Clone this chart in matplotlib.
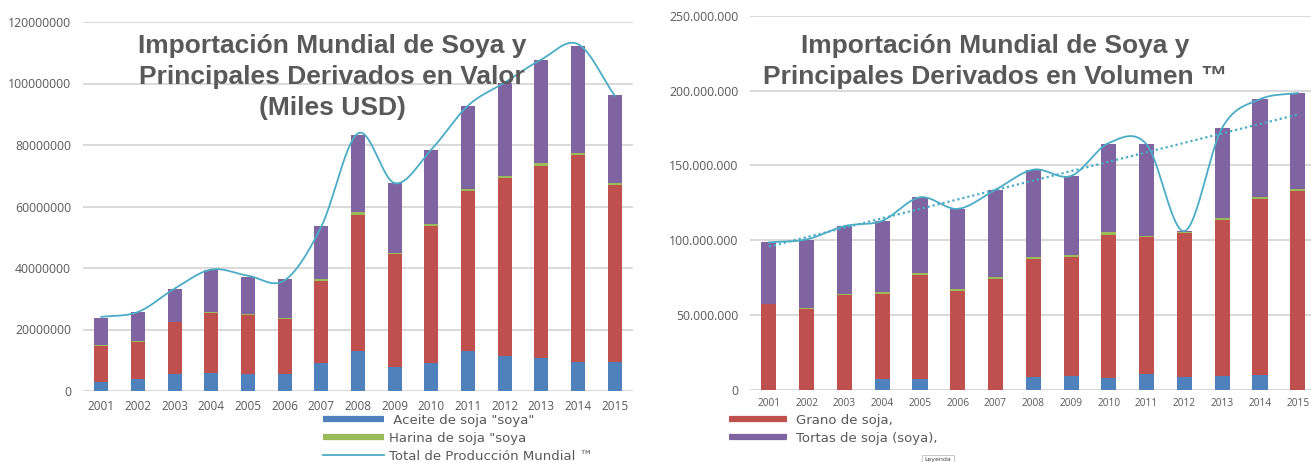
import numpy as np
import matplotlib
matplotlib.use("Agg")
import matplotlib.pyplot as plt
from matplotlib.lines import Line2D

# ---------------- data ----------------
years = ["2001", "2002", "2003", "2004", "2005", "2006", "2007", "2008",
         "2009", "2010", "2011", "2012", "2013", "2014", "2015"]

# Left chart: value (thousand USD)
val_aceite = [2.9e6, 3.8e6, 5.4e6, 5.8e6, 5.4e6, 5.4e6, 9.0e6, 13.1e6,
              7.8e6, 9.0e6, 13.1e6, 11.5e6, 10.6e6, 9.5e6, 9.4e6]
val_grano = [11.8e6, 12.1e6, 16.9e6, 19.6e6, 19.3e6, 18.0e6, 26.8e6, 44.2e6,
             36.6e6, 44.6e6, 52.0e6, 57.8e6, 62.7e6, 67.1e6, 57.5e6]
val_harina = [0.3e6, 0.4e6, 0.3e6, 0.4e6, 0.4e6, 0.4e6, 0.7e6, 0.8e6,
              0.5e6, 0.8e6, 0.5e6, 0.6e6, 0.7e6, 0.7e6, 0.7e6]
val_tortas = [8.6e6, 9.3e6, 10.5e6, 13.5e6, 12.1e6, 12.5e6, 17.0e6, 25.0e6,
              22.8e6, 23.9e6, 27.0e6, 30.2e6, 33.6e6, 35.0e6, 28.5e6]
val_total = [24.1e6, 25.7e6, 33.3e6, 39.5e6, 37.5e6, 36.0e6, 53.5e6, 83.8e6,
             67.6e6, 78.5e6, 92.8e6, 100.3e6, 107.8e6, 112.8e6, 96.1e6]
val_yticks = [0, 20000000, 40000000, 60000000, 80000000, 100000000, 120000000]

# Right chart: volume (t)
vol_aceite = [0, 0, 0, 7.1e6, 7.3e6, 0, 0, 8.5e6, 9.1e6, 7.8e6, 10.5e6,
              8.7e6, 9.1e6, 9.8e6, 0]
vol_grano = [57.4e6, 53.9e6, 63.2e6, 57.2e6, 69.7e6, 65.9e6, 73.9e6, 78.8e6,
             79.9e6, 95.9e6, 91.7e6, 95.9e6, 104.7e6, 118.0e6, 133.1e6]
vol_harina = [0.3e6, 0.6e6, 0.9e6, 1.1e6, 1.1e6, 1.3e6, 1.3e6, 1.7e6,
              1.2e6, 1.6e6, 0.4e6, 1.1e6, 1.1e6, 1.1e6, 1.1e6]
vol_tortas = [40.9e6, 45.7e6, 45.4e6, 47.5e6, 50.6e6, 53.7e6, 58.6e6, 58.1e6,
              52.7e6, 59.2e6, 61.5e6, 0.2e6, 60.3e6, 65.2e6, 64.2e6]
vol_total = [98.6e6, 100.6e6, 109.5e6, 113.0e6, 128.7e6, 121.0e6, 133.8e6,
             147.2e6, 143.0e6, 165.0e6, 164.0e6, 106.2e6, 175.2e6, 194.2e6,
             198.4e6]
vol_yticks = [0, 50000000, 100000000, 150000000, 200000000, 250000000]

# ---------------- style ----------------
C_BLUE = "#4F81BD"
C_RED = "#C0504D"
C_GREEN = "#9BBB59"
C_PURPLE = "#8064A2"
C_LINE = "#4BACC6"
C_TEXT = "#595959"
C_GRID = "#D9D9D9"


def smooth(xs, ys, n=40):
    """Catmull-Rom style smoothing (like Excel's smoothed line)."""
    xs = np.asarray(xs, float)
    ys = np.asarray(ys, float)
    m = np.zeros_like(ys)
    m[1:-1] = (ys[2:] - ys[:-2]) / 2.0
    m[0] = ys[1] - ys[0]
    m[-1] = ys[-1] - ys[-2]
    ox, oy = [], []
    t = np.linspace(0, 1, n, endpoint=False)
    for i in range(len(xs) - 1):
        p0, p3 = ys[i], ys[i + 1]
        p1 = p0 + m[i] / 3.0
        p2 = p3 - m[i + 1] / 3.0
        b = ((1 - t) ** 3) * p0 + 3 * ((1 - t) ** 2) * t * p1 + 3 * (1 - t) * t ** 2 * p2 + t ** 3 * p3
        ox.extend(xs[i] + t * (xs[i + 1] - xs[i]))
        oy.extend(b)
    ox.append(xs[-1])
    oy.append(ys[-1])
    return np.array(ox), np.array(oy)


W, H = 1311, 462
fig = plt.figure(figsize=(W / 100, H / 100), dpi=100)
fig.patch.set_facecolor("white")


def style_axes(ax, yticks, ylabels, ysize, xsize, xpad):
    ax.set_ylim(yticks[0], yticks[-1])
    ax.set_yticks(yticks)
    ax.set_yticklabels(ylabels, family="Open Sans", fontsize=ysize, color=C_TEXT)
    ax.grid(axis="y", color=C_GRID, linewidth=1.4, zorder=0)
    ax.set_axisbelow(True)
    for s in ax.spines.values():
        s.set_visible(False)
    ax.tick_params(axis="both", length=0)
    ax.tick_params(axis="y", pad=8.5)
    ax.tick_params(axis="x", pad=xpad)
    ax.set_xticks(np.arange(len(years)))
    ax.set_xticklabels(years, family="Open Sans", fontsize=xsize, color=C_TEXT)


x = np.arange(len(years))

# ---------------- left chart ----------------
axL = fig.add_axes([83 / W, 1 - 391 / H, (633 - 83) / W, (391 - 22) / H])
bw = 0.39
b0 = np.zeros(len(years))
for vals, col in [(val_aceite, C_BLUE), (val_grano, C_RED),
                  (val_harina, C_GREEN), (val_tortas, C_PURPLE)]:
    axL.bar(x, vals, bw, bottom=b0, color=col, linewidth=0, zorder=2)
    b0 = b0 + np.array(vals)
sx, sy = smooth(x, val_total)
axL.plot(sx, sy, color=C_LINE, lw=1.3, zorder=3)
axL.set_xlim(-0.5, 14.5)
style_axes(axL, val_yticks, [str(v) for v in val_yticks], 8.8, 8.5, 6.5)

fig.text(332 / W, 1 - 77 / H,
         "Importación Mundial de Soya y\nPrincipales Derivados en Valor\n(Miles USD)",
         ha="center", va="center", family="Liberation Sans", fontweight="bold",
         fontsize=19, color=C_TEXT, linespacing=1.36, zorder=5)

legL = fig.legend(
    handles=[Line2D([], [], color=C_BLUE, lw=4.5, solid_capstyle="butt"),
             Line2D([], [], color=C_GREEN, lw=4.5, solid_capstyle="butt"),
             Line2D([], [], color=C_LINE, lw=1.3)],
    labels=[' Aceite de soja "soya"', 'Harina de soja "soya', "Total de Producción Mundial ™"],
    loc="upper left", bbox_to_anchor=(323 / W, 1 - 414 / H),
    frameon=False, borderpad=0, borderaxespad=0, handlelength=4.6,
    handletextpad=0.4, labelspacing=0.36,
    prop={"family": "DejaVu Sans", "size": 9.5})
for t in legL.get_texts():
    t.set_color(C_TEXT)

# ---------------- right chart ----------------
axR = fig.add_axes([750 / W, 1 - 390 / H, (W - 750) / W, (390 - 15.7) / H])
bw = 0.40
b0 = np.zeros(len(years))
for vals, col in [(vol_aceite, C_BLUE), (vol_grano, C_RED),
                  (vol_harina, C_GREEN), (vol_tortas, C_PURPLE)]:
    axR.bar(x, vals, bw, bottom=b0, color=col, linewidth=0, zorder=2)
    b0 = b0 + np.array(vals)
sx, sy = smooth(x, vol_total)
axR.plot(sx, sy, color=C_LINE, lw=1.3, zorder=3)
coef = np.polyfit(x, vol_total, 1)
axR.plot(x, np.polyval(coef, x), color=C_LINE, lw=1.6, ls=(0, (1, 1.3)), zorder=3)
axR.set_xlim(-0.5, 14.35)
style_axes(axR, vol_yticks,
           [f"{v:,}".replace(",", ".") for v in vol_yticks], 8.8, 7.3, 6)

fig.text(995 / W, 1 - 61.5 / H,
         "Importación Mundial de Soya y\nPrincipales Derivados en Volumen ™",
         ha="center", va="center", family="Liberation Sans", fontweight="bold",
         fontsize=19, color=C_TEXT, linespacing=1.36, zorder=5)

legR = fig.legend(
    handles=[Line2D([], [], color=C_RED, lw=4.5, solid_capstyle="butt"),
             Line2D([], [], color=C_PURPLE, lw=4.5, solid_capstyle="butt")],
    labels=["Grano de soja,", "Tortas de soja (soya),"],
    loc="upper left", bbox_to_anchor=(729 / W, 1 - 414 / H),
    frameon=False, borderpad=0, borderaxespad=0, handlelength=4.4,
    handletextpad=0.7, labelspacing=0.36,
    prop={"family": "DejaVu Sans", "size": 9.5})
for t in legR.get_texts():
    t.set_color(C_TEXT)

fig.text(938 / W, 1 - 459.5 / H, "Leyenda", ha="center", va="center",
         family="DejaVu Sans", fontsize=4.5, color="#404040",
         bbox=dict(boxstyle="square,pad=0.35", fc="white", ec="#BFBFBF", lw=0.6))

fig.savefig("out.png", dpi=100, facecolor="white")
